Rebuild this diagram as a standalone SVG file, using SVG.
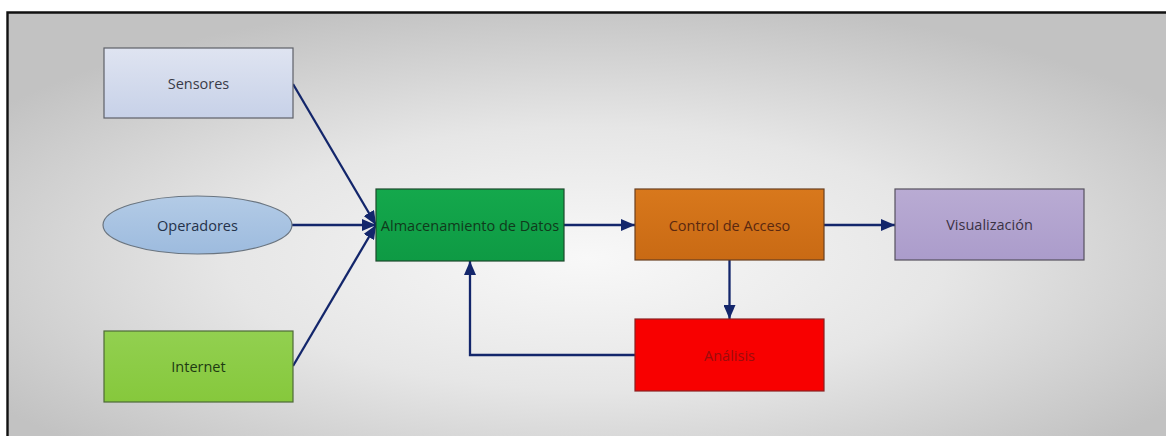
<svg xmlns="http://www.w3.org/2000/svg" width="1166" height="436" viewBox="0 0 1166 436">
  <defs>
    <radialGradient id="bg" cx="0.5" cy="0.58" r="0.62">
      <stop offset="0" stop-color="#f8f8f8"/>
      <stop offset="0.5" stop-color="#e6e6e6"/>
      <stop offset="1" stop-color="#c2c2c2"/>
    </radialGradient>
    <linearGradient id="gSens" x1="0" y1="0" x2="0" y2="1">
      <stop offset="0" stop-color="#dfe4f1"/>
      <stop offset="1" stop-color="#c7d1e8"/>
    </linearGradient>
    <linearGradient id="gOper" x1="0" y1="0" x2="0" y2="1">
      <stop offset="0" stop-color="#b3cbe6"/>
      <stop offset="1" stop-color="#9dbbde"/>
    </linearGradient>
    <linearGradient id="gInet" x1="0" y1="0" x2="0" y2="1">
      <stop offset="0" stop-color="#92d050"/>
      <stop offset="1" stop-color="#86c83c"/>
    </linearGradient>
    <linearGradient id="gAlm" x1="0" y1="0" x2="0" y2="1">
      <stop offset="0" stop-color="#14a84c"/>
      <stop offset="1" stop-color="#0e9a44"/>
    </linearGradient>
    <linearGradient id="gCtrl" x1="0" y1="0" x2="0" y2="1">
      <stop offset="0" stop-color="#d8781c"/>
      <stop offset="1" stop-color="#c96a14"/>
    </linearGradient>
    <linearGradient id="gVis" x1="0" y1="0" x2="0" y2="1">
      <stop offset="0" stop-color="#b9abd3"/>
      <stop offset="1" stop-color="#ab9ccb"/>
    </linearGradient>
    <marker id="arrow" viewBox="0 0 14 12" refX="14" refY="6" markerWidth="14" markerHeight="12" markerUnits="userSpaceOnUse" orient="auto">
      <path d="M0,0 L14,6 L0,12 Z" fill="#13266b"/>
    </marker>
  </defs>
  <style>
    .lbl { font-family: "Open Sans", "Liberation Sans", sans-serif; font-size: 14.5px; text-anchor: middle; dominant-baseline: central; }
    .box { stroke-width: 1.2; }
    .conn { fill: none; stroke: #13266b; stroke-width: 2.3; }
  </style>

  <!-- canvas -->
  <rect x="0" y="0" width="1166" height="436" fill="#ffffff"/>
  <rect x="8" y="13" width="1158" height="423" fill="url(#bg)"/>
  <path d="M7.5,436 V12.5 H1166" fill="none" stroke="#111111" stroke-width="2.4"/>

  <!-- connectors -->
  <g id="connectors">
    <path class="conn" d="M293,84 L376,225" marker-end="url(#arrow)"/>
    <path class="conn" d="M292,225 L376,225" marker-end="url(#arrow)"/>
    <path class="conn" d="M293,366 L376,225" marker-end="url(#arrow)"/>
    <path class="conn" d="M564,225 L635,225" marker-end="url(#arrow)"/>
    <path class="conn" d="M824,225 L895,225" marker-end="url(#arrow)"/>
    <path class="conn" d="M729.5,260 L729.5,319" marker-end="url(#arrow)"/>
    <path class="conn" d="M635,355 L470,355 L470,261" marker-end="url(#arrow)"/>
  </g>

  <!-- nodes -->
  <g id="sensores">
    <rect class="box" x="104" y="48" width="189" height="70" fill="url(#gSens)" stroke="#5e6068"/>
    <text class="lbl" x="198.5" y="83" fill="#3a3c48">Sensores</text>
  </g>
  <g id="operadores">
    <ellipse class="box" cx="197.5" cy="225" rx="94.5" ry="29" fill="url(#gOper)" stroke="#6a7580"/>
    <text class="lbl" x="197.5" y="225" fill="#24324a">Operadores</text>
  </g>
  <g id="internet">
    <rect class="box" x="104" y="331" width="189" height="71" fill="url(#gInet)" stroke="#4e6a38"/>
    <text class="lbl" x="198.5" y="366" fill="#1e3a12">Internet</text>
  </g>
  <g id="almacenamiento">
    <rect class="box" x="376" y="189" width="188" height="72" fill="url(#gAlm)" stroke="#1c4a2c"/>
    <text class="lbl" x="470" y="225" fill="#103a1c">Almacenamiento de Datos</text>
  </g>
  <g id="control">
    <rect class="box" x="635" y="189" width="189" height="71" fill="url(#gCtrl)" stroke="#6a4020"/>
    <text class="lbl" x="729.5" y="225" fill="#5a2810">Control de Acceso</text>
  </g>
  <g id="analisis">
    <rect class="box" x="635" y="319" width="189" height="72" fill="#f80000" stroke="#8a2020"/>
    <text class="lbl" x="729.5" y="355" fill="#9c0c0c">Análisis</text>
  </g>
  <g id="visualizacion">
    <rect class="box" x="895" y="189" width="189" height="71" fill="url(#gVis)" stroke="#55505e"/>
    <text class="lbl" x="989.5" y="224.5" fill="#3a3244">Visualización</text>
  </g>
</svg>
